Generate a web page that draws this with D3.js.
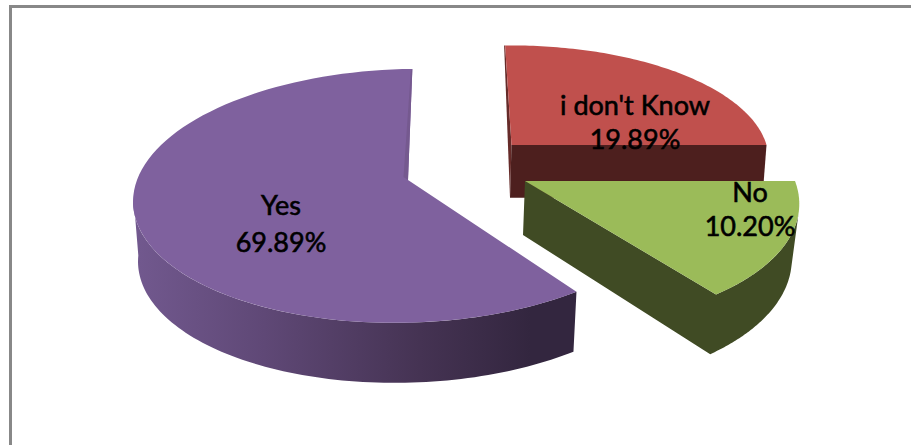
<!DOCTYPE html>
<html>
<head>
<meta charset="utf-8">
<style>
  html, body { margin: 0; padding: 0; background: #fff; }
  svg { display: block; }
  text { font-family: Lato, "Open Sans", sans-serif; font-size: 27px; fill: #000; text-anchor: middle; stroke: #000; stroke-width: 0.6px; }
</style>
<script src="https://cdn.jsdelivr.net/npm/d3@7/dist/d3.min.js"></script>
</head>
<body>
<script>
// Survey answers, clockwise from twelve o'clock.
const categories = ["i don't Know", "No", "Yes"];
const shares = [19.89, 10.20, 69.89];
const topColors = ["#c0504d", "#9bbb59", "#7f619e"];

const width = 911, height = 445;
const svg = d3.select("body").append("svg").attr("width", width).attr("height", height);

// Frame around the plot: only the top and left rules are inside the crop.
svg.append("rect").attr("x", 9).attr("y", 5).attr("width", width - 9).attr("height", 3).attr("fill", "#888");
svg.append("rect").attr("x", 9).attr("y", 5).attr("width", 3).attr("height", height - 5).attr("fill", "#888");

// Slice angles come from the pie layout; the tilted disc foreshortens them.
const arcs = d3.pie().sort(null).value(d => d)(shares);
const azimuth = d3.scaleLinear()
  .domain([0, arcs[0].endAngle, arcs[1].endAngle, 2 * Math.PI])
  .range([-1.5, 90, 143.5, 358.5]);

// Perspective disc for each exploded slice: apex, radii, convergence, thickness.
const discs = [
  { ax: 511.5, ay: 145, rx: 255, ry: 112, k: 0.125, sx: 0.5, dx: -1.5, d: 52.7, scx: 0.99, scy: 1 },
  { ax: 525, ay: 181, rx: 270, ry: 127, k: 0.125, sx: 14, dx: -2, d: 54, scx: 0.98, scy: 1.05 },
  { ax: 408, ay: 180, rx: 271, ry: 125, k: 0.125, sx: -12, dx: 0, d: 60, scx: 0.982, scy: 1 }
];

function project(disc, deg, level) {
  const a = deg * Math.PI / 180, u = Math.sin(a), v = -Math.cos(a);
  const s = 1 / (1 - disc.k * v);
  const x = (disc.rx * u + disc.sx * v) * s, y = disc.ry * v * s;
  return level
    ? [disc.ax + disc.dx + x * disc.scx, disc.ay + disc.d + y * disc.scy]
    : [disc.ax + x, disc.ay + y];
}

const sweep = (a, b, n = 90) => d3.range(n + 1).map(i => a + (b - a) * i / n);
const line = d3.line();
const rim = (disc, a, b, level) => sweep(a, b).map(t => project(disc, t, level));

const [startRed, endRed] = [arcs[0].startAngle, arcs[0].endAngle].map(azimuth);
const [startGreen, endGreen] = [arcs[1].startAngle, arcs[1].endAngle].map(azimuth);
const [startPurple, endPurple] = [arcs[2].startAngle, arcs[2].endAngle].map(azimuth);

const apexTop = disc => [disc.ax, disc.ay];
const apexBottom = disc => [disc.ax + disc.dx, disc.ay + disc.d];

// Shading for the long outer wall of the largest slice.
const grad = svg.append("defs").append("linearGradient").attr("id", "rimShade")
  .attr("gradientUnits", "userSpaceOnUse").attr("x1", 132).attr("x2", 575).attr("y1", 0).attr("y2", 0);
[[0, "#72598f"], [0.3, "#5f4876"], [0.65, "#453353"], [0.9, "#33263f"], [1, "#33263f"]]
  .forEach(([o, c]) => grad.append("stop").attr("offset", o).attr("stop-color", c));

const slices = svg.append("g");

// "i don't Know": cut face on the left, flat face along the front, then the top.
{
  const disc = discs[0];
  const a = project(disc, startRed, 0);
  slices.append("path").attr("fill", "#662b29")
    .attr("d", line([[a[0] - 1, a[1]], a, apexTop(disc), apexBottom(disc)]) + "Z");
  slices.append("path").attr("fill", "#4d1f1e")
    .attr("d", line([apexTop(disc), project(disc, endRed, 0), project(disc, endRed, 1), apexBottom(disc)]) + "Z");
  slices.append("path").attr("fill", topColors[0])
    .attr("d", line([apexTop(disc), ...rim(disc, startRed, endRed, 0)]) + "Z");
}

// "Yes": outer wall out to the left silhouette, thin wall of the notch, then the top.
{
  const disc = discs[2];
  const from = endGreen, to = 263;
  slices.append("path").attr("fill", "url(#rimShade)")
    .attr("d", line([...rim(disc, from, to, 0), ...rim(disc, to, from, 1)]) + "Z");
  slices.append("path").attr("fill", topColors[2])
    .attr("d", line([apexTop(disc), ...rim(disc, startPurple, endPurple, 0)]) + "Z");
  const e = project(disc, endPurple, 0);
  slices.append("path").attr("fill", "#75598f")
    .attr("d", line([e, apexTop(disc), [disc.ax - 4.5, disc.ay - 3], [e[0] - 1.5, e[1] + 2]]) + "Z");
}

// "No": cut wall toward the viewer and curved wall as one shape, then the top.
{
  const disc = discs[1];
  const walls = [
    apexTop(disc),
    ...rim(disc, endGreen, 104, 0),
    ...rim(disc, 104, endGreen, 1),
    apexBottom(disc)
  ];
  slices.append("path").attr("fill", "#404b24").attr("d", line(walls) + "Z");
  slices.append("path").attr("fill", topColors[1])
    .attr("d", line([apexTop(disc), ...rim(disc, startGreen, endGreen, 0)]) + "Z");
}

// Category name and share for each slice.
const labelAnchors = [[635, 115, 149], [750, 202, 236], [281, 215, 252]];
const fmt = d3.format(".2f");
categories.forEach((name, i) => {
  const [x, y1, y2] = labelAnchors[i];
  svg.append("text").attr("x", x).attr("y", y1).text(name);
  svg.append("text").attr("x", x).attr("y", y2).text(fmt(shares[i]) + "%");
});
</script>
</body>
</html>
